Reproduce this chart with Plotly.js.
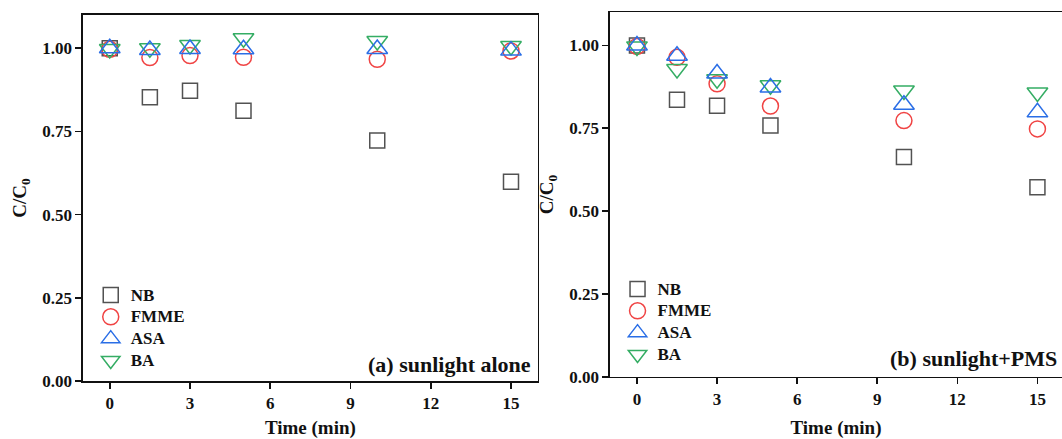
<!DOCTYPE html>
<html>
<head>
<meta charset="utf-8">
<script src="https://cdn.plot.ly/plotly-3.0.1.min.js"></script>
<style>html,body{margin:0;padding:0;background:#fff;}#chart{width:1062px;height:439px;}</style>
</head>
<body>
<div id="chart"></div>
<script>
// Time points (min)
const time = [0, 1.5, 3, 5, 10, 15];
const seriesNames = ["NB", "FMME", "ASA", "BA"];

// (a) sunlight alone
const a_NB   = [1.000, 0.853, 0.872, 0.812, 0.723, 0.599];
const a_FMME = [0.997, 0.972, 0.978, 0.973, 0.967, 0.992];
const a_ASA  = [1.000, 0.995, 0.998, 0.997, 0.998, 0.993];
const a_BA   = [0.998, 1.000, 1.010, 1.030, 1.022, 1.007];

// (b) sunlight+PMS
const b_NB   = [1.000, 0.836, 0.818, 0.758, 0.663, 0.572];
const b_FMME = [0.997, 0.964, 0.884, 0.817, 0.773, 0.748];
const b_ASA  = [1.000, 0.969, 0.915, 0.873, 0.821, 0.798];
const b_BA   = [0.997, 0.929, 0.898, 0.880, 0.864, 0.858];

const xTicks = [0, 3, 6, 9, 12, 15];
const yTicks = [0, 0.25, 0.5, 0.75, 1.0];

const colors = {NB: "#525252", FMME: "#f04444", ASA: "#2a6ee6", BA: "#35ad64"};
const symbols = {NB: "square-open", FMME: "circle-open", ASA: "triangle-up-open", BA: "triangle-down-open"};
const sizes = {NB: 15, FMME: 16, ASA: 18, BA: 18};
const ranks = {NB: 1, FMME: 2, ASA: 3, BA: 4};

function mk(name, y, xa, ya, leg) {
  return {
    type: "scatter", mode: "markers",
    name: '<span style="font-size:17px">' + name + '</span>',
    x: time, y: y,
    xaxis: xa, yaxis: ya, legend: leg, legendrank: ranks[name],
    marker: {symbol: symbols[name], size: sizes[name], color: colors[name], line: {width: 1.5, color: colors[name]}},
    cliponaxis: false
  };
}

const data = [
  mk("NB", a_NB, "x", "y", "legend"),
  mk("FMME", a_FMME, "x", "y", "legend"),
  mk("BA", a_BA, "x", "y", "legend"),
  mk("ASA", a_ASA, "x", "y", "legend"),
  mk("NB", b_NB, "x2", "y2", "legend2"),
  mk("FMME", b_FMME, "x2", "y2", "legend2"),
  mk("BA", b_BA, "x2", "y2", "legend2"),
  mk("ASA", b_ASA, "x2", "y2", "legend2")
];

const FF = "Liberation Serif, Times New Roman, serif";
const tickFont = {family: FF, size: 17, color: "#111", weight: "bold"};
const titleFont = {family: FF, size: 19, color: "#111", weight: "bold"};

function xax(domain, range) {
  return {
    domain: domain, range: range, tickmode: "array", tickvals: xTicks, ticktext: xTicks.map(String),
    showgrid: false, zeroline: false, showline: true, linecolor: "#111", linewidth: 1.6,
    ticks: "outside", ticklen: 6, tickwidth: 1.6, tickcolor: "#111",
    tickfont: tickFont, mirror: true,
    title: {text: "Time (min)", font: titleFont, standoff: 15}
  };
}
function yax(domain, anchor, mirror) {
  return {
    domain: domain, range: [0, 1.10], anchor: anchor, tickmode: "array", tickvals: yTicks,
    ticktext: yTicks.map(v => v.toFixed(2)),
    showgrid: false, zeroline: false, showline: true, linecolor: "#111", linewidth: 1.6,
    ticks: "outside", ticklen: 6, tickwidth: 1.6, tickcolor: "#111",
    tickfont: tickFont, mirror: mirror,
    title: {text: "C/C<sub>0</sub>", font: titleFont, standoff: 10}
  };
}

const legFont = {family: FF, size: 14.5, color: "#111", weight: "bold"};

const layout = {
  width: 1062, height: 439,
  margin: {l: 83, r: 0, t: 0, b: 0},
  paper_bgcolor: "#fff", plot_bgcolor: "#fff",
  showlegend: true,
  xaxis: Object.assign(xax([0, 0.4645], [-1, 16]), {anchor: "y"}),
  yaxis: yax([0.1321, 0.9658], "x", true),
  xaxis2: Object.assign(xax([0.5383, 1], [-1.01, 15.92]), {anchor: "y2"}),
  yaxis2: yax([0.1419, 0.9720], "x2", "ticks"),
  legend: {x: 0.0079, y: 0.3644, xanchor: "left", yanchor: "top", bgcolor: "rgba(0,0,0,0)",
           font: legFont, tracegroupgap: 0, traceorder: "normal"},
  legend2: {x: 0.546, y: 0.3781, xanchor: "left", yanchor: "top", bgcolor: "rgba(0,0,0,0)",
           font: legFont, tracegroupgap: 0, traceorder: "normal"},
  annotations: [
    {text: "(a) sunlight alone", xref: "x domain", yref: "y domain", x: 0.99, y: 0.045,
     xanchor: "right", yanchor: "middle", showarrow: false,
     font: {family: FF, size: 22, color: "#111", weight: "bold"}},
    {text: "(b) sunlight+PMS", xref: "paper", yref: "y2 domain", x: 0.9965, y: 0.05,
     xanchor: "right", yanchor: "middle", showarrow: false,
     font: {family: FF, size: 22, color: "#111", weight: "bold"}}
  ]
};

Plotly.newPlot("chart", data, layout, {displayModeBar: false, staticPlot: true});
</script>
</body>
</html>
